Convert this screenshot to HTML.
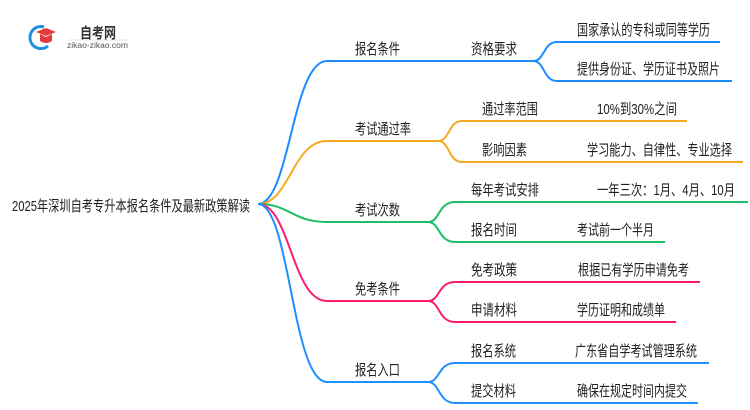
<!DOCTYPE html>
<html><head><meta charset="utf-8"><style>
html,body{margin:0;padding:0;background:#fff;width:750px;height:410px;overflow:hidden}
svg text{font-family:"Liberation Sans","Noto Sans CJK SC",sans-serif;fill:#222}
</style></head><body>
<svg width="750" height="410" xmlns="http://www.w3.org/2000/svg">
<path d="M44 27 A11 11 0 1 0 48 46" fill="none" stroke="#1e8fe0" stroke-width="3"/>
<path d="M36 32 L46 28 L56 32 L46 36 Z" fill="#e23b3b"/>
<path d="M40 34 L40 41 Q46 45 52 41 L52 34 L46 37 Z" fill="#e23b3b"/>
<text x="80" y="38" font-size="15" font-weight="bold" textLength="36" lengthAdjust="spacingAndGlyphs" style="fill:#333">自考网</text>
<line x1="68" y1="40" x2="130" y2="40" stroke="#ccc" stroke-width="0.6"/>
<text x="67" y="48" font-size="8" textLength="61" lengthAdjust="spacingAndGlyphs" style="fill:#555">zikao-zikao.com</text>

<g fill="none" stroke-width="2">
<g stroke="#1a8cff">
<path d="M258 204 C290 204 292 61 327 61 L533 61"/>
<path d="M533 61 C545 61 543 42 557 42 L720 42"/>
<path d="M533 61 C545 61 543 81 557 81 L732 81"/>
</g>
<g stroke="#f5a91e">
<path d="M258 204 C290 204 292 141 327 141 L438 141"/>
<path d="M438 141 C450 141 448 121 462 121 L687 121"/>
<path d="M438 141 C450 141 448 162 462 162 L743 162"/>
</g>
<g stroke="#1cbf68">
<path d="M258 204 C290 204 292 222 327 222 L428 222"/>
<path d="M428 222 C440 222 438 202 455 202 L748 202"/>
<path d="M428 222 C440 222 438 242 455 242 L665 242"/>
</g>
<g stroke="#ff1a70">
<path d="M258 204 C290 204 292 301 327 301 L428 301"/>
<path d="M428 301 C440 301 438 282 455 282 L700 282"/>
<path d="M428 301 C440 301 438 322 455 322 L676 322"/>
</g>
<g stroke="#1e90ff">
<path d="M258 204 C290 204 292 382 327 382 L428 382"/>
<path d="M428 382 C440 382 438 363 455 363 L709 363"/>
<path d="M428 382 C440 382 438 403 455 403 L698 403"/>
</g>
</g>

<g font-size="15">
<text lengthAdjust="spacingAndGlyphs" x="12" y="211" textLength="238">2025年深圳自考专升本报名条件及最新政策解读</text>
<text lengthAdjust="spacingAndGlyphs" x="355" y="54" textLength="45">报名条件</text>
<text lengthAdjust="spacingAndGlyphs" x="471" y="54" textLength="46">资格要求</text>
<text lengthAdjust="spacingAndGlyphs" x="577" y="35" textLength="133">国家承认的专科或同等学历</text>
<text lengthAdjust="spacingAndGlyphs" x="577" y="74" textLength="143">提供身份证、学历证书及照片</text>
<text lengthAdjust="spacingAndGlyphs" x="355" y="134" textLength="56">考试通过率</text>
<text lengthAdjust="spacingAndGlyphs" x="482" y="114" textLength="56">通过率范围</text>
<text lengthAdjust="spacingAndGlyphs" x="597" y="114" textLength="80">10%到30%之间</text>
<text lengthAdjust="spacingAndGlyphs" x="482" y="155" textLength="45">影响因素</text>
<text lengthAdjust="spacingAndGlyphs" x="587" y="155" textLength="145">学习能力、自律性、专业选择</text>
<text lengthAdjust="spacingAndGlyphs" x="355" y="215" textLength="45">考试次数</text>
<text lengthAdjust="spacingAndGlyphs" x="471" y="195" textLength="68">每年考试安排</text>
<text lengthAdjust="spacingAndGlyphs" x="597" y="195" textLength="138">一年三次：1月、4月、10月</text>
<text lengthAdjust="spacingAndGlyphs" x="471" y="235" textLength="46">报名时间</text>
<text lengthAdjust="spacingAndGlyphs" x="577" y="235" textLength="77">考试前一个半月</text>
<text lengthAdjust="spacingAndGlyphs" x="355" y="294" textLength="45">免考条件</text>
<text lengthAdjust="spacingAndGlyphs" x="471" y="275" textLength="46">免考政策</text>
<text lengthAdjust="spacingAndGlyphs" x="578" y="275" textLength="111">根据已有学历申请免考</text>
<text lengthAdjust="spacingAndGlyphs" x="471" y="315" textLength="46">申请材料</text>
<text lengthAdjust="spacingAndGlyphs" x="577" y="315" textLength="88">学历证明和成绩单</text>
<text lengthAdjust="spacingAndGlyphs" x="355" y="375" textLength="45">报名入口</text>
<text lengthAdjust="spacingAndGlyphs" x="471" y="356" textLength="45">报名系统</text>
<text lengthAdjust="spacingAndGlyphs" x="575" y="356" textLength="122">广东省自学考试管理系统</text>
<text lengthAdjust="spacingAndGlyphs" x="471" y="396" textLength="45">提交材料</text>
<text lengthAdjust="spacingAndGlyphs" x="577" y="396" textLength="110">确保在规定时间内提交</text>
</g>
</svg>
</body></html>
